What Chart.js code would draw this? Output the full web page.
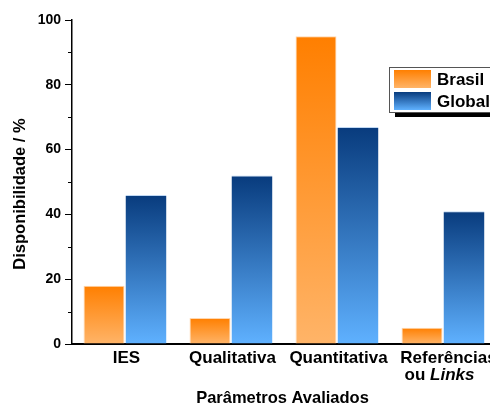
<!DOCTYPE html>
<html>
<head>
<meta charset="utf-8">
<script src="https://cdn.jsdelivr.net/npm/chart.js@4/dist/chart.umd.min.js"></script>
<style>
    html, body { margin: 0; padding: 0; overflow: hidden; background: #fff; }
    #wrap { width: 500px; height: 405px; }
</style>
</head>
<body>
<div id="wrap"><canvas id="chart" width="500" height="405"></canvas></div>
<script>
// Chart data
const categories = ['IES', 'Qualitativa', 'Quantitativa', 'Referências\nou Links'];
const seriesNames = ['Brasil', 'Global'];
const brasilValues = [18, 8, 95, 5];
const globalValues = [46, 52, 67, 41];
const yTicks = [0, 20, 40, 60, 80, 100];
const italicWords = ['Links'];

const FONT = '"Liberation Sans", Arial, sans-serif';

// gradient stops (top -> bottom)
const orangeStops = ['#ff7f00', '#ffb468'];
const blueStops = ['#083b7d', '#5fb1ff'];

function makeGradient(ctx, top, bottom, stops) {
    const g = ctx.createLinearGradient(0, top, 0, bottom);
    g.addColorStop(0, stops[0]);
    g.addColorStop(1, stops[1]);
    return g;
}

// Per-bar gradient, from the bar top down to zero
function barFill(stops) {
    return (c) => {
        const chart = c.chart;
        if (!chart.chartArea || !c.parsed) return stops[0];
        const y = chart.scales.y;
        return makeGradient(chart.ctx, y.getPixelForValue(c.parsed.y), y.getPixelForValue(0), stops);
    };
}

// Draws minor ticks, category labels, axis titles and the legend box
const decorations = {
    id: 'decorations',
    afterDraw(chart) {
        const { ctx, chartArea, scales } = chart;
        const x = scales.x, y = scales.y;
        ctx.save();

        // minor ticks on y axis
        ctx.strokeStyle = '#000';
        ctx.lineWidth = 1;
        for (let i = 0; i < yTicks.length - 1; i++) {
            const py = Math.round(y.getPixelForValue((yTicks[i] + yTicks[i + 1]) / 2)) + 0.5;
            ctx.beginPath();
            ctx.moveTo(chartArea.left - 4, py);
            ctx.lineTo(chartArea.left, py);
            ctx.stroke();
        }

        // category labels
        ctx.fillStyle = '#000';
        ctx.textBaseline = 'alphabetic';
        categories.forEach((label, i) => {
            const cx = x.getPixelForValue(i) + 1.5;
            const lines = label.split('\n');
            lines.forEach((line, j) => {
                const by = chartArea.bottom + 19 + j * 17;
                const parts = line.split(' ').map((w, k, arr) => ({
                    text: w + (k < arr.length - 1 ? ' ' : ''),
                    italic: italicWords.includes(w)
                }));
                let total = 0;
                parts.forEach(p => {
                    ctx.font = (p.italic ? 'italic ' : '') + 'bold 17px ' + FONT;
                    p.w = ctx.measureText(p.text).width;
                    total += p.w;
                });
                let sx = cx - total / 2 + (lines.length > 1 ? (j === 0 ? 4 : -5) : 0);
                ctx.textAlign = 'left';
                parts.forEach(p => {
                    ctx.font = (p.italic ? 'italic ' : '') + 'bold 17px ' + FONT;
                    ctx.fillText(p.text, sx, by);
                    sx += p.w;
                });
            });
        });

        // x axis title
        ctx.font = 'bold 16.5px ' + FONT;
        ctx.textAlign = 'center';
        ctx.fillText('Parâmetros Avaliados', (chartArea.left + chartArea.right) / 2 - 1.5, 403);

        // y axis title
        ctx.save();
        ctx.translate(20, (chartArea.top + chartArea.bottom) / 2 + 12);
        ctx.rotate(-Math.PI / 2);
        ctx.textBaseline = 'middle';
        ctx.fillText('Disponibilidade / %', 0, 0);
        ctx.restore();

        // legend with drop shadow
        const lx = 389, ly = 67, lw = 120, lh = 45;
        ctx.fillStyle = '#000';
        ctx.fillRect(lx + 6, ly + 5, lw, lh);
        ctx.fillStyle = '#fff';
        ctx.fillRect(lx, ly, lw, lh);
        ctx.strokeStyle = '#555';
        ctx.strokeRect(lx + 0.5, ly + 0.5, lw, lh);

        const swatchStops = [orangeStops, blueStops];
        seriesNames.forEach((name, i) => {
            const sy = ly + 3 + i * 22;
            ctx.fillStyle = makeGradient(ctx, sy, sy + 18, swatchStops[i]);
            ctx.fillRect(lx + 5, sy, 37, 18);
            ctx.fillStyle = '#000';
            ctx.font = 'bold 17px ' + FONT;
            ctx.textAlign = 'left';
            ctx.textBaseline = 'alphabetic';
            ctx.fillText(name, lx + 48, sy + 15);
        });

        ctx.restore();
    }
};

const ctx = document.getElementById('chart').getContext('2d');
const chart = new Chart(ctx, {
    type: 'bar',
    data: {
        labels: categories,
        datasets: [{
            label: seriesNames[0],
            data: brasilValues,
            backgroundColor: barFill(orangeStops),
            borderColor: '#ffd7b0',
            borderWidth: 1
        }, {
            label: seriesNames[1],
            data: globalValues,
            backgroundColor: barFill(blueStops),
            borderColor: 'rgba(150,190,235,0.6)',
            borderWidth: { top: 1, left: 0, right: 0, bottom: 0 }
        }]
    },
    options: {
        responsive: false,
        animation: false,
        categoryPercentage: 0.792,
        barPercentage: 0.976,
        layout: { padding: { top: 20, right: 4, left: 0, bottom: 0 } },
        plugins: {
            legend: { display: false },
            tooltip: { enabled: false }
        },
        scales: {
            x: {
                grid: { display: false },
                border: { color: '#000', width: 2 },
                ticks: { display: false },
                afterFit: (scale) => { scale.height = 61; }
            },
            y: {
                min: 0,
                max: 100,
                afterBuildTicks: (scale) => { scale.ticks = yTicks.map(v => ({ value: v })); },
                ticks: {
                    color: '#000',
                    padding: 4,
                    font: { family: FONT, size: 14, weight: 'bold' }
                },
                grid: {
                    drawOnChartArea: false,
                    tickLength: 7,
                    tickColor: '#000',
                    lineWidth: 1
                },
                border: { color: '#000', width: 1.5 },
                afterFit: (scale) => { scale.width = 72; }
            }
        }
    },
    plugins: [decorations]
});
</script>
</body>
</html>
